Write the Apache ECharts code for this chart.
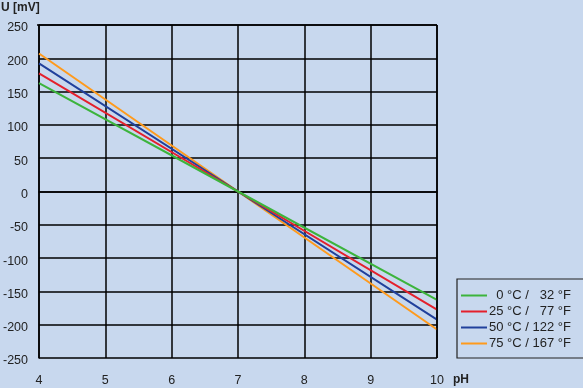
<!DOCTYPE html>
<html><head><meta charset="utf-8">
<script src="https://cdn.jsdelivr.net/npm/echarts@6/dist/echarts.min.js"></script>
<style>html,body{margin:0;padding:0;background:#c8d8ee}#c{width:583px;height:388px}</style>
</head><body><div id="c"></div>
<script>
const phValues = [4, 7, 10];
const u0C = [162.6, 0, -162.6];
const u25C = [177.5, 0, -177.5];
const u50C = [192.3, 0, -192.3];
const u75C = [207.2, 0, -207.2];
const seriesNames = ['0 °C / 32 °F', '25 °C / 77 °F', '50 °C / 122 °F', '75 °C / 167 °F'];
const celsius = ['0', '25', '50', '75'];
const fahrenheit = ['32', '77', '122', '167'];
const colors = ['#3cb43c', '#e4202c', '#20409c', '#ff9a1c'];
const yTicks = [-250, 250, 50];
const xTicks = [4, 10, 1];

const allData = [u0C, u25C, u50C, u75C];
const font = 'Liberation Sans, Arial, sans-serif';
const FS = '\u2007';
function pad(s, n) { while (s.length < n) s = FS + s; return s; }
const chart = echarts.init(document.getElementById('c'));
const series = [3, 2, 1, 0].map(i => ({
  name: seriesNames[i], type: 'line', symbol: 'none',
  data: phValues.map((x, k) => [x, allData[i][k]]),
  lineStyle: {color: colors[i], width: 2}, itemStyle: {color: colors[i]},
  z: 3 + (3 - i), animation: false
}));
chart.setOption({
  backgroundColor: '#c8d8ee',
  animation: false,
  grid: {left: 37, right: 146, top: 25, bottom: 30, containLabel: false},
  xAxis: {
    type: 'value', min: xTicks[0], max: xTicks[1], interval: xTicks[2],
    axisLine: {show: true, lineStyle: {color: '#000', width: 1.5}},
    axisTick: {show: false},
    splitLine: {show: true, lineStyle: {color: '#000', width: 1.5}},
    axisLabel: {color: '#222', fontSize: 12.5, fontFamily: font, margin: 16}
  },
  yAxis: {
    type: 'value', min: yTicks[0], max: yTicks[1], interval: yTicks[2],
    axisLine: {show: true, lineStyle: {color: '#000', width: 1.5}},
    axisTick: {show: false},
    splitLine: {show: true, lineStyle: {color: '#000', width: 1.5}},
    axisLabel: {color: '#222', fontSize: 12.5, fontFamily: font, margin: 11, verticalAlign: 'top', lineHeight: 6}
  },
  graphic: [
    {type: 'text', left: 1, top: 2, style: {text: 'U [mV]', font: 'bold 12px ' + font, fill: '#222'}},
    {type: 'text', left: 453, top: 374, style: {text: 'pH', font: 'bold 12px ' + font, fill: '#222'}},
    {type: 'line', shape: {x1: 37, y1: 25, x2: 437, y2: 25}, style: {stroke: '#000', lineWidth: 1.5}, z: 10},
    {type: 'line', shape: {x1: 437, y1: 25, x2: 437, y2: 358}, style: {stroke: '#000', lineWidth: 1.5}, z: 10}
  ],
  legend: {
    orient: 'vertical', left: 457, top: 279, width: 123,
    padding: [10, 20, 8, 4], itemGap: 3,
    borderColor: '#222', borderWidth: 1.2,
    itemWidth: 26, itemHeight: 12,
    data: seriesNames.map((n, i) => ({name: n, icon: 'path://M0,5 L26,5 L26,7 L0,7 Z', itemStyle: {color: colors[i]}})),
    formatter: function (name) {
      const i = seriesNames.indexOf(name);
      return pad(celsius[i], 2) + ' °C / ' + pad(fahrenheit[i], 3) + ' °F';
    },
    textStyle: {color: '#222', fontFamily: font, fontSize: 13, padding: [0, 0, 0, -3]}
  },
  series: series
});
</script></body></html>
